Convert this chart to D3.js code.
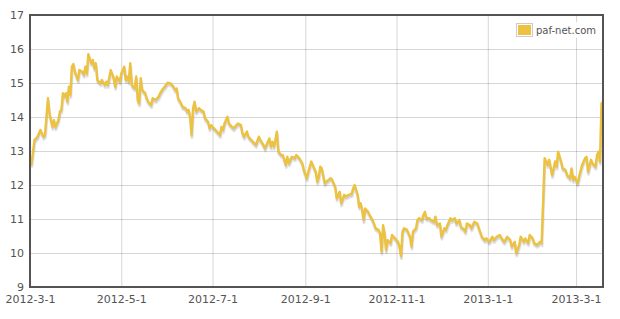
<!DOCTYPE html>
<html><head><meta charset="utf-8">
<script src="https://cdn.jsdelivr.net/npm/d3@7/dist/d3.min.js"></script>
<style>body{margin:0;background:#fff}svg{display:block}</style>
</head><body>
<svg id="c" width="620" height="319"></svg>
<script>
const seriesName = "paf-net.com";
const dates = [
"2012-03-01","2012-03-02","2012-03-04","2012-03-06","2012-03-08","2012-03-10","2012-03-11","2012-03-13","2012-03-14","2012-03-16",
"2012-03-17","2012-03-18","2012-03-20","2012-03-21","2012-03-22","2012-03-23","2012-03-24","2012-03-25","2012-03-26","2012-03-27",
"2012-03-28","2012-03-29","2012-03-30","2012-03-31","2012-04-02","2012-04-03","2012-04-05","2012-04-06","2012-04-07","2012-04-08",
"2012-04-09","2012-04-11","2012-04-12","2012-04-13","2012-04-14","2012-04-15","2012-04-17","2012-04-18","2012-04-20","2012-04-21",
"2012-04-22","2012-04-24","2012-04-26","2012-04-27","2012-04-28","2012-04-30","2012-05-01","2012-05-03","2012-05-04","2012-05-05",
"2012-05-06","2012-05-07","2012-05-08","2012-05-10","2012-05-11","2012-05-12","2012-05-13","2012-05-14","2012-05-15","2012-05-17",
"2012-05-18","2012-05-19","2012-05-21","2012-05-22","2012-05-24","2012-05-26","2012-05-27","2012-05-29","2012-05-30","2012-06-01",
"2012-06-03","2012-06-05","2012-06-06","2012-06-07","2012-06-08","2012-06-10","2012-06-11","2012-06-13","2012-06-14","2012-06-15",
"2012-06-16","2012-06-17","2012-06-18","2012-06-19","2012-06-20","2012-06-22","2012-06-23","2012-06-25","2012-06-26","2012-06-28",
"2012-06-29","2012-06-30","2012-07-02","2012-07-03","2012-07-05","2012-07-06","2012-07-07","2012-07-08","2012-07-09","2012-07-11",
"2012-07-12","2012-07-14","2012-07-15","2012-07-17","2012-07-18","2012-07-20","2012-07-21","2012-07-22","2012-07-24","2012-07-25",
"2012-07-27","2012-07-28","2012-07-30","2012-08-01","2012-08-02","2012-08-04","2012-08-05","2012-08-07","2012-08-08","2012-08-09",
"2012-08-10","2012-08-11","2012-08-12","2012-08-13","2012-08-14","2012-08-16","2012-08-17","2012-08-19","2012-08-20","2012-08-21",
"2012-08-23","2012-08-25","2012-08-26","2012-08-28","2012-08-30","2012-08-31","2012-09-02","2012-09-03","2012-09-05","2012-09-06",
"2012-09-08","2012-09-09","2012-09-10","2012-09-11","2012-09-12","2012-09-14","2012-09-15","2012-09-18","2012-09-19","2012-09-21",
"2012-09-22","2012-09-24","2012-09-25","2012-09-27","2012-09-28","2012-09-30","2012-10-02","2012-10-03","2012-10-04","2012-10-06",
"2012-10-07","2012-10-08","2012-10-09","2012-10-10","2012-10-11","2012-10-13","2012-10-14","2012-10-16","2012-10-18","2012-10-20",
"2012-10-21","2012-10-22","2012-10-23","2012-10-24","2012-10-25","2012-10-26","2012-10-28","2012-10-29","2012-10-31","2012-11-02",
"2012-11-03","2012-11-04","2012-11-05","2012-11-06","2012-11-08","2012-11-10","2012-11-11","2012-11-12","2012-11-14","2012-11-15",
"2012-11-16","2012-11-18","2012-11-19","2012-11-20","2012-11-21","2012-11-23","2012-11-24","2012-11-26","2012-11-27","2012-11-28",
"2012-11-30","2012-12-01","2012-12-03","2012-12-04","2012-12-05","2012-12-07","2012-12-08","2012-12-10","2012-12-11","2012-12-13",
"2012-12-14","2012-12-16","2012-12-17","2012-12-18","2012-12-20","2012-12-21","2012-12-23","2012-12-25","2012-12-26","2012-12-28",
"2012-12-30","2012-12-31","2013-01-02","2013-01-04","2013-01-05","2013-01-07","2013-01-09","2013-01-11","2013-01-12","2013-01-14",
"2013-01-16","2013-01-17","2013-01-19","2013-01-20","2013-01-22","2013-01-23","2013-01-25","2013-01-26","2013-01-28","2013-01-29",
"2013-01-31","2013-02-01","2013-02-03","2013-02-05","2013-02-06","2013-02-08","2013-02-09","2013-02-10","2013-02-11","2013-02-13",
"2013-02-15","2013-02-16","2013-02-17","2013-02-19","2013-02-20","2013-02-22","2013-02-23","2013-02-25","2013-02-26","2013-02-27",
"2013-02-28","2013-03-02","2013-03-03","2013-03-05","2013-03-07","2013-03-08","2013-03-09","2013-03-11","2013-03-12","2013-03-14",
"2013-03-15","2013-03-16","2013-03-17","2013-03-18","2013-03-19"
];
const values = [
12.74,12.62,13.32,13.42,13.62,13.42,13.47,14.55,14.11,13.71,
13.91,13.70,13.91,14.16,14.21,14.70,14.60,14.70,14.45,14.89,
14.65,15.48,15.56,15.33,15.09,15.38,15.33,15.24,15.48,15.28,
15.85,15.58,15.68,15.43,15.58,15.09,14.99,15.09,14.94,15.04,
14.94,15.38,15.14,14.89,15.19,15.04,15.28,15.48,15.09,15.19,
15.04,15.58,14.94,14.84,15.19,14.50,14.40,15.14,14.79,14.70,
14.55,14.45,14.35,14.55,14.50,14.60,14.70,14.84,14.89,15.01,
14.99,14.89,14.79,14.84,14.55,14.40,14.30,14.26,14.16,14.21,
14.01,13.47,14.26,14.45,14.16,14.26,14.21,14.16,13.96,13.86,
13.67,13.76,13.67,13.62,13.52,13.47,13.71,13.62,13.81,14.01,
13.81,13.71,13.67,13.76,13.81,13.76,13.52,13.42,13.57,13.42,
13.32,13.27,13.18,13.42,13.32,13.18,13.08,13.27,13.37,13.13,
13.27,13.13,13.32,13.57,12.98,12.88,12.88,12.59,12.83,12.64,
12.83,12.79,12.88,12.79,12.64,12.44,12.20,12.39,12.69,12.59,
12.39,12.10,12.24,12.54,12.49,12.05,12.10,12.20,12.15,11.95,
11.61,11.80,11.46,11.71,11.66,11.71,11.74,11.90,12.00,11.71,
11.36,11.46,11.27,10.97,11.31,11.21,11.12,10.97,10.73,10.68,
10.58,10.04,10.82,10.58,10.09,10.38,10.29,10.53,10.43,10.33,
10.19,9.91,10.63,10.73,10.68,10.48,10.19,10.63,10.73,10.97,
11.02,10.97,11.12,11.21,11.02,11.02,10.97,10.92,11.07,10.82,
10.87,10.48,10.73,10.68,10.82,11.02,10.97,11.02,10.87,10.97,
10.77,10.70,10.63,10.87,10.82,10.73,10.92,10.87,10.73,10.48,
10.38,10.43,10.33,10.48,10.38,10.48,10.53,10.38,10.33,10.48,
10.38,10.19,10.33,9.99,10.24,10.48,10.33,10.43,10.29,10.53,
10.43,10.29,10.24,10.33,10.29,12.79,12.69,12.59,12.74,12.29,
12.69,12.54,12.98,12.69,12.49,12.44,12.29,12.20,12.49,12.15,
12.24,12.05,12.24,12.59,12.79,12.83,12.39,12.74,12.64,12.54,
12.88,12.98,12.69,14.40,14.45
];
const xTickDates = ["2012-03-01","2012-05-01","2012-07-01","2012-09-01","2012-11-01","2013-01-01","2013-03-01"];
const yTicks = [9,10,11,12,13,14,15,16,17];
const xDomain = ["2012-03-01","2013-03-19"];
const yDomain = [9,17];

const parse = d3.timeParse("%Y-%m-%d");
const fmt = d3.timeFormat("%Y-%-m-%-d");
const data = dates.map((d,i)=>({date:parse(d), value:values[i]}));

const L=30, T=15, R=603, B=287;
const W=R-L, H=B-T;
const color="#edc240", textColor="#545454";
const svg=d3.select("#c");
const g=svg.append("g").attr("transform",`translate(${L},${T})`);

const x=d3.scaleTime().domain(xDomain.map(parse)).range([0,W]);
const y=d3.scaleLinear().domain(yDomain).range([H,0]);

// grid
g.append("g").attr("class","grid")
  .call(d3.axisLeft(y).tickValues(yTicks).tickSize(-W).tickFormat(""));
g.append("g").attr("class","grid").attr("transform",`translate(0,${H})`)
  .call(d3.axisBottom(x).tickValues(xTickDates.map(parse)).tickSize(-H).tickFormat(""));
svg.selectAll(".grid .domain").remove();
svg.selectAll(".grid line").attr("stroke","rgba(0,0,0,0.16)").attr("stroke-width",1);

// labels
const axY=g.append("g").call(d3.axisLeft(y).tickValues(yTicks).tickSize(0).tickPadding(6).tickFormat(d3.format("d")));
const axX=g.append("g").attr("transform",`translate(0,${H})`)
  .call(d3.axisBottom(x).tickValues(xTickDates.map(parse)).tickSize(0).tickPadding(8).tickFormat(fmt));
[axX,axY].forEach(a=>{a.select(".domain").remove();
  a.selectAll("text").attr("fill",textColor).style("font-family","'DejaVu Sans', Verdana, sans-serif").style("font-size","11px");});

// line with flot-like shadow
const line=d3.line().x(d=>x(d.date)).y(d=>y(d.value));
const lw=2.4, sw=3, ang=Math.PI/18;
g.append("path").datum(data).attr("d",line).attr("fill","none")
 .attr("stroke","rgba(0,0,0,0.1)").attr("stroke-width",sw)
 .attr("transform",`translate(${Math.sin(ang)*(lw/2+sw/2)},${Math.cos(ang)*(lw/2+sw/2)})`).attr("stroke-linejoin","round");
g.append("path").datum(data).attr("d",line).attr("fill","none")
 .attr("stroke","rgba(0,0,0,0.1)").attr("stroke-width",sw/2)
 .attr("transform",`translate(${Math.sin(ang)*(lw/2+sw/4)},${Math.cos(ang)*(lw/2+sw/4)})`).attr("stroke-linejoin","round");
g.append("path").datum(data).attr("d",line).attr("fill","none")
 .attr("stroke",color).attr("stroke-width",lw).attr("stroke-linejoin","round");

// border
g.append("rect").attr("x",0).attr("y",0).attr("width",W).attr("height",H)
 .attr("fill","none").attr("stroke",textColor).attr("stroke-width",2);

// legend
const lg=svg.append("g").attr("transform",`translate(${R-89},${T+7})`);
lg.append("rect").attr("x",0).attr("y",0).attr("width",84).attr("height",16).attr("fill","#fff").attr("opacity",0.85);
lg.append("rect").attr("x",2.5).attr("y",1.5).attr("width",16).attr("height",13).attr("fill","none").attr("stroke","#ccc");
lg.append("rect").attr("x",4).attr("y",3).attr("width",13).attr("height",10).attr("fill",color);
lg.append("text").attr("x",22).attr("y",8).attr("dy","0.35em").text(seriesName)
 .attr("fill",textColor).style("font-family","'DejaVu Sans', Verdana, sans-serif").style("font-size","10px");
</script>
</body></html>
